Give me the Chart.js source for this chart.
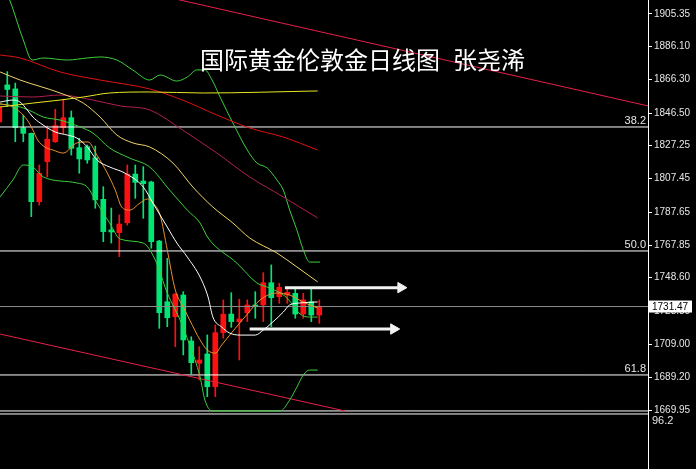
<!DOCTYPE html>
<html>
<head>
<meta charset="utf-8">
<title>国际黄金伦敦金日线图</title>
<script src="https://cdn.jsdelivr.net/npm/chart.js@4.4.1/dist/chart.umd.min.js"></script>
<style>
    html, body { margin: 0; padding: 0; background: #000; }
    .chart-box { position: relative; width: 696px; height: 469px; background: #000; }
</style>
</head>
<body>
<div class="chart-box"><canvas id="goldChart"></canvas></div>
<script>

/* =========================
   DATA
========================= */

const days = [-1, 0, 1, 2, 3, 4, 5, 6, 7, 8, 9, 10, 11, 12, 13, 14, 15, 16, 17, 18, 19,
              20, 21, 22, 23, 24, 25, 26, 27, 28, 29, 30, 31, 32, 33, 34, 35, 36, 37, 38, 39];

const opens  = [1841.2, 1863.2, 1860.8, 1837.8, 1834.4, 1793.8, 1817.6, 1829.4, 1837.8, 1843.7,
                1825.9, 1826.5, 1819.9, 1795.2, 1777.0, 1775.4, 1781.3, 1810.2, 1806.1, 1805.5,
                1770.4, 1734.3, 1725.4, 1738.3, 1711.0, 1697.7, 1703.3, 1683.8, 1715.9, 1727.0,
                1722.5, 1727.8, 1732.4, 1732.4, 1745.6, 1737.3, 1738.3, 1739.3, 1727.0, 1734.3, 1726.4];
const highs  = [1851.9, 1871.1, 1864.3, 1845.3, 1834.6, 1815.6, 1838.8, 1848.7, 1854.7, 1847.7,
                1831.5, 1827.5, 1826.9, 1802.7, 1790.0, 1785.9, 1815.6, 1815.6, 1814.6, 1806.0,
                1770.8, 1760.1, 1739.2, 1740.3, 1713.5, 1707.6, 1714.6, 1720.5, 1735.4, 1739.7,
                1735.8, 1735.4, 1740.3, 1751.6, 1756.2, 1745.3, 1742.3, 1742.3, 1739.3, 1742.3, 1735.4];
const lows   = [1840.0, 1850.3, 1829.4, 1829.4, 1784.9, 1791.8, 1808.5, 1829.0, 1834.4, 1821.5,
                1810.7, 1816.6, 1789.9, 1770.0, 1769.2, 1761.1, 1779.9, 1795.8, 1783.9, 1766.1,
                1718.5, 1719.5, 1707.6, 1702.7, 1691.4, 1687.8, 1677.9, 1677.9, 1712.6, 1719.1,
                1699.7, 1722.5, 1724.5, 1722.5, 1719.5, 1733.4, 1733.4, 1724.5, 1724.5, 1722.5, 1721.5];
const closes = [1850.1, 1860.5, 1837.8, 1834.4, 1793.8, 1810.7, 1830.9, 1839.0, 1843.7, 1825.5,
                1819.2, 1818.6, 1794.8, 1776.0, 1775.8, 1780.5, 1810.2, 1805.3, 1804.5, 1770.0,
                1727.8, 1724.8, 1738.9, 1711.6, 1698.1, 1699.7, 1683.8, 1715.9, 1726.9, 1722.5,
                1724.1, 1732.4, 1731.4, 1745.6, 1736.7, 1742.9, 1739.9, 1727.0, 1735.4, 1726.4, 1731.47];

// price axis labels
const priceTicks = [1905.35, 1886.10, 1866.30, 1846.50, 1827.25, 1807.45, 1787.65,
                    1767.85, 1748.60, 1728.80, 1709.00, 1689.20, 1669.95];
const lastPrice = 1731.47;

// fibonacci levels [label, price]
const fibLevels = [["38.2", 1838.2], ["50.0", 1764.5], ["61.8", 1690.8], ["96.2", 1669.4]];
const fibExtra = 1667.6;

// moving averages / bands, [day, price]
const maWhite = [[-0.9,1853.0],[0.7,1854.2],[1.6,1853.0],[2.5,1848.3],[3.2,1844.1],[4.1,1840.6],[6.0,1835.2],
    [7.5,1833.4],[8.7,1831.6],[10.0,1826.3],[11.2,1818.6],[12.8,1814.4],[14.7,1810.8],[17.0,1802.5],
    [18.2,1793.0],[20.0,1778.7],[21.2,1769.2],[22.5,1760.9],[24.1,1749.0],[25.1,1737.1],[25.7,1725.2],
    [26.8,1719.3],[27.8,1715.7],[29.1,1714.5],[31.0,1714.5],[32.0,1717.5],[33.2,1722.3],[34.5,1728.2],
    [35.3,1732.4],[36.6,1733.6],[38.8,1734.2]];
const maOrange = [[-0.9,1852.0],[0.7,1850.1],[2.5,1842.3],[3.2,1836.4],[3.8,1830.4],[4.7,1826.3],[5.7,1824.5],
    [7.0,1822.7],[8.7,1828.7],[10.1,1829.3],[11.2,1821.5],[12.5,1810.8],[13.5,1800.7],[14.3,1790.6],
    [15.3,1788.8],[16.6,1793.0],[17.5,1795.4],[18.2,1793.0],[19.1,1785.9],[20.0,1765.1],[21.0,1741.3],
    [22.0,1731.2],[22.8,1723.5],[24.1,1711.6],[25.0,1705.6],[26.0,1703.8],[26.8,1708.6],[27.8,1714.5],
    [29.9,1726.4],[31.6,1735.4],[33.7,1739.5],[35.3,1738.3],[37.2,1733.6],[38.8,1730.6]];
const maPale = [[-0.9,1870.9],[1.6,1866.1],[6.6,1858.4],[9.5,1852.4],[11.6,1844.1],[13.7,1833.4],[15.7,1828.7],
    [17.8,1826.3],[20.7,1816.8],[23.2,1802.5],[25.7,1790.6],[28.2,1781.1],[30.3,1772.2],[33.7,1763.3],
    [36.2,1755.0],[38.8,1746.1]];
const maYellow = [[-0.9,1850.1],[3.2,1852.4],[6.6,1854.2],[9.5,1856.0],[12.8,1858.4],[17.8,1859.0],
    [24.5,1858.4],[38.8,1859.6]];
const maRed = [[-0.9,1881.0],[1.6,1879.2],[6.6,1870.9],[11.6,1866.1],[17.8,1860.8],[21.9,1854.2],
    [26.2,1845.3],[30.3,1837.6],[34.5,1832.2],[38.8,1824.5]];
const maMaroon = [[-0.9,1856.6],[3.2,1856.0],[6.6,1857.2],[10.7,1854.2],[14.1,1850.7],[17.8,1848.3],
    [21.9,1836.4],[26.2,1822.7],[30.3,1808.5],[34.5,1796.6],[38.8,1784.1]];

const bandUpper = [[-0.9,1925.6],[0.3,1913.7],[2.0,1889.9],[3.1,1878.0],[4.5,1879.2],[7.5,1878.0],
    [10.0,1879.2],[11.6,1879.8],[13.7,1878.0],[15.7,1872.0],[17.8,1866.1],[19.1,1869.1],[21.2,1865.5],
    [22.5,1867.9],[23.7,1872.1],[24.7,1872.1],[25.6,1866.1],[26.6,1856.0],[28.2,1840.6],[30.0,1824.5],
    [31.2,1816.8],[32.5,1813.8],[33.7,1806.7],[34.5,1800.7],[35.3,1788.8],[36.2,1777.0],[37.0,1765.1],
    [37.8,1757.9],[39.1,1757.9]];
const bandMiddle = [[-0.9,1851.8],[1.6,1850.1],[3.2,1847.1],[4.5,1844.1],[6.6,1842.3],[9.1,1838.2],
    [10.7,1834.6],[12.8,1825.7],[15.3,1819.7],[17.8,1814.4],[20.3,1800.7],[22.5,1788.8],[24.1,1781.1],
    [25.1,1772.2],[28.7,1757.3],[31.2,1745.5],[32.8,1742.5],[34.7,1737.7],[35.7,1732.4],[36.6,1727.0],
    [37.8,1725.2],[38.8,1725.2]];
const bandLower = [[-0.9,1796.6],[0.7,1806.7],[2.0,1815.6],[3.2,1814.4],[4.5,1808.5],[8.7,1804.9],
    [10.0,1802.5],[11.2,1793.0],[12.8,1781.1],[14.1,1771.6],[17.0,1769.2],[18.5,1759.1],[20.0,1739.5],
    [21.6,1723.5],[22.8,1708.6],[24.1,1689.6],[24.7,1675.9],[25.6,1669.4],[34.1,1669.4],[35.3,1675.9],
    [36.2,1683.6],[37.0,1690.8],[37.8,1693.7],[38.8,1693.7]];

// channel lines and arrows
const channelTop = [[21.0,1914.3],[80.1,1850.7]];
const channelBottom = [[-0.9,1715.1],[42.2,1669.4]];
const arrowHigh = [[34.7,1742.7],[49.2,1742.7]];
const arrowLow = [[30.3,1718.1],[48.3,1718.1]];

const xMin = -0.91;
const xMax = 80.09;

/* =========================
   HELPERS
========================= */

function toPoints(pairs){
    return pairs.map(p => ({ x: p[0], y: p[1] }));
}

function lineSet(pairs, color, width){
    return {
        type: "line",
        data: toPoints(pairs),
        borderColor: color,
        borderWidth: width || 1,
        pointRadius: 0,
        cubicInterpolationMode: "monotone",
        order: 1
    };
}

function levelSet(price, color){
    return lineSet([[xMin, price], [xMax, price]], color, 1);
}

function arrowSet(pairs){
    const ds = lineSet(pairs, "#f2f2f2", 3);
    ds.pointRadius = [0, 6];
    ds.pointStyle = "triangle";
    ds.rotation = 90;
    ds.pointBackgroundColor = "#f2f2f2";
    ds.pointBorderColor = "#f2f2f2";
    ds.pointBorderWidth = 1;
    ds.order = 0;
    return ds;
}

const upColor = "#ff1010";
const downColor = "#00e676";
const candleColors = closes.map((c, i) => c >= opens[i] ? upColor : downColor);

/* =========================
   PLUGINS
========================= */

const overlayText = {
    id: "overlayText",
    afterDraw(chart){
        const ctx = chart.ctx;
        const y = chart.scales.y;
        const right = chart.chartArea.right;

        ctx.save();

        // title
        ctx.fillStyle = "#ffffff";
        ctx.font = '24px "Noto Sans CJK SC"';
        ctx.textBaseline = "middle";
        ctx.textAlign = "left";
        ctx.fillText("国际黄金伦敦金日线图", 200, 60);
        ctx.fillText("张尧浠", 453, 60);

        // fibo labels
        ctx.font = '11px "Liberation Sans"';
        ctx.fillStyle = "#e6e6e6";
        fibLevels.forEach(([label, price]) => {
            const py = y.getPixelForValue(price);
            if(label === "96.2"){
                ctx.textAlign = "left";
                ctx.fillText(label, right + 4, py + 10);
            }else{
                ctx.textAlign = "right";
                ctx.fillText(label, right - 2, py - 6);
            }
        });

        // last price box
        const ly = y.getPixelForValue(lastPrice);
        ctx.fillStyle = "#ffffff";
        ctx.fillRect(right + 1, ly - 6, 43, 12);
        ctx.fillStyle = "#000000";
        ctx.textAlign = "left";
        ctx.font = '10px "Liberation Sans"';
        ctx.fillText(lastPrice.toFixed(2), right + 4, ly + 0.5);

        ctx.restore();
    }
};

/* =========================
   CHART
========================= */

const ctx = document.getElementById("goldChart");

new Chart(ctx, {

    type: "bar",

    data: {

        datasets: [

            arrowSet(arrowHigh),
            arrowSet(arrowLow),

            lineSet(maWhite, "#ffffff"),
            lineSet(maOrange, "#e8922c"),
            lineSet(maPale, "#f2d36b"),
            lineSet(maYellow, "#e8e820"),
            lineSet(maRed, "#e01010"),
            lineSet(maMaroon, "#b0204e"),
            lineSet(bandUpper, "#3ccf3c"),
            lineSet(bandMiddle, "#3ccf3c"),
            lineSet(bandLower, "#3ccf3c"),
            lineSet(channelTop, "#e8204a"),
            lineSet(channelBottom, "#e8204a"),

            levelSet(fibLevels[0][1], "#ffffff"),
            levelSet(fibLevels[1][1], "#ffffff"),
            levelSet(fibLevels[2][1], "#ffffff"),
            levelSet(fibLevels[3][1], "#ffffff"),
            levelSet(fibExtra, "#ffffff"),
            levelSet(lastPrice, "#8c8c8c"),

            {
                label: "body",
                data: days.map((d, i) => ({ x: d, y: [opens[i], closes[i]] })),
                backgroundColor: candleColors,
                borderWidth: 0,
                barThickness: 5,
                minBarLength: 1,
                grouped: false,
                order: 5
            },
            {
                label: "wick",
                data: days.map((d, i) => ({ x: d, y: [lows[i], highs[i]] })),
                backgroundColor: candleColors,
                borderWidth: 0,
                barThickness: 1,
                grouped: false,
                order: 6
            }

        ]

    },

    options: {

        responsive: true,
        maintainAspectRatio: false,
        animation: false,
        layout: { padding: 0, autoPadding: false },

        plugins: {
            legend: { display: false },
            tooltip: { enabled: false }
        },

        scales: {

            x: {
                type: "linear",
                display: false,
                min: xMin,
                max: xMax,
                offset: false
            },

            y: {
                position: "right",
                min: 1634.9,
                max: 1913.67,
                afterBuildTicks: scale => {
                    scale.ticks = priceTicks.map(v => ({ value: v }));
                },
                afterFit: scale => {
                    scale.width = 48;
                    scale.paddingTop = 0;
                    scale.paddingBottom = 0;
                },
                ticks: {
                    color: "#e6e6e6",
                    padding: 2,
                    font: { family: "Liberation Sans", size: 10 },
                    callback: v => Number(v).toFixed(2)
                },
                grid: {
                    drawOnChartArea: false,
                    color: "#ffffff",
                    tickLength: 4
                },
                border: { display: true, color: "#ffffff" }
            }

        }

    },

    plugins: [overlayText]

});

</script>
</body>
</html>
